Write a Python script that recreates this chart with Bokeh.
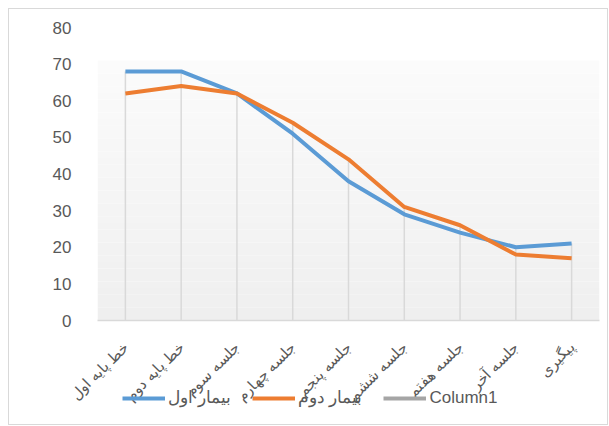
import math
from bokeh.plotting import figure
from bokeh.layouts import column
from bokeh.models import FactorRange, Range1d, Legend, LegendItem
from bokeh.embed import file_html
from bokeh.resources import INLINE

nan = float("nan")
categories = ["خط پایه اول", "خط پایه دوم", "جلسه سوم", "جلسه چهارم", "جلسه پنجم",
              "جلسه ششم", "جلسه هفتم", "جلسه آخر", "پیگیری"]
patient1 = [68, 68, 62, 51, 38, 29, 24, 20, 21]
patient2 = [62, 64, 62, 54, 44, 31, 26, 18, 17]
column1 = [nan, nan, nan, nan, nan, nan, nan, nan, nan]
series_names = ["بیمار اول", "بیمار دوم", "Column1"]
series_colors = ["#5b9bd5", "#ed7d31", "#a5a5a5"]
y_ticks = [0, 10, 20, 30, 40, 50, 60, 70, 80]

FONT = "Liberation Sans"
TXT = "#595959"

xr = FactorRange(*categories, range_padding=0)
p = figure(width=598, height=406, x_range=xr, y_range=Range1d(0, 80),
           output_backend="svg", toolbar_location=None,
           min_border_left=88, min_border_right=8, min_border_top=18, min_border_bottom=95)
p.outline_line_color = None
p.background_fill_color = "white"
p.border_fill_alpha = 0

# subtle vertical gradient in the plot area
n = 40
top = 71
for i in range(n):
    y0 = top * i / n
    y1 = top * (i + 1) / n
    t = i / (n - 1)
    g = int(round(0xef + (0xfb - 0xef) * t))
    col = "#%02x%02x%02x" % (g, g, g)
    p.quad(left=0, right=len(categories), bottom=y0, top=y1, fill_color=col, line_color=None)

# drop lines
drop_top = [max(a, b) for a, b in zip(patient1, patient2)]
p.segment(x0=categories, y0=[0] * len(categories), x1=categories, y1=drop_top,
          line_color="#d9d9d9", line_width=1.5)

series = [patient1, patient2, column1]
for vals, c in zip(series, series_colors):
    p.line(categories, vals, line_color=c, line_width=4, line_join="round")

p.xgrid.grid_line_color = None
p.ygrid.grid_line_color = None

p.yaxis.ticker = y_ticks
p.yaxis.axis_line_color = None
p.yaxis.major_tick_line_color = None
p.yaxis.minor_tick_line_color = None
p.yaxis.major_label_standoff = 20
p.yaxis.major_label_text_font = FONT
p.yaxis.major_label_text_font_size = "17px"
p.yaxis.major_label_text_color = TXT

p.xaxis.axis_line_color = "#d9d9d9"
p.xaxis.axis_line_width = 1.5
p.xaxis.major_tick_line_color = None
p.xaxis.minor_tick_line_color = None
p.xaxis.major_label_orientation = math.pi / 4
p.xaxis.major_label_standoff = 18
p.xaxis.major_label_text_font = FONT
p.xaxis.major_label_text_font_size = "15px"
p.xaxis.major_label_text_color = TXT

# legend strip (lines kept outside its visible y range, only the legend shows)
leg = figure(width=598, height=38, x_range=xr, y_range=Range1d(200, 201),
             output_backend="svg", toolbar_location=None, min_border=0)
leg.margin = (-29, 0, 0, 0)
leg.axis.visible = False
leg.grid.visible = False
leg.outline_line_color = None
leg.background_fill_alpha = 0
leg.border_fill_alpha = 0
items = []
for name, vals, c in zip(series_names, series, series_colors):
    r = leg.line(categories, [v if v == v else 0 for v in vals], line_color=c, line_width=4)
    items.append(LegendItem(label=name, renderers=[r]))

legend = Legend(items=items, orientation="horizontal", location=(25, 16),
                background_fill_alpha=0, border_line_color=None,
                padding=0, margin=0, spacing=21, label_standoff=3,
                glyph_width=43, glyph_height=20, label_height=20,
                label_text_font=FONT, label_text_font_size="17px", label_text_color=TXT)
leg.add_layout(legend, "center")

layout = column(p, leg)
layout.margin = (8, 0, 0, 8)
layout.styles = {"border": "1px solid #d9d9d9"}

open("out.html", "w").write(file_html(layout, INLINE))
